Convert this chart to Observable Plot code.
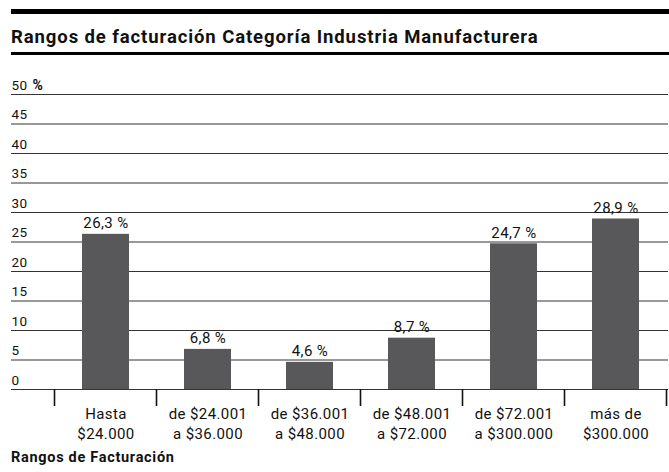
<!DOCTYPE html>
<html>
<head>
<meta charset="utf-8">
<script src="https://cdn.jsdelivr.net/npm/d3@7"></script>
<script src="https://cdn.jsdelivr.net/npm/@observablehq/plot@0.6"></script>
<style>
  html, body { margin: 0; padding: 0; background: #fff; }
  #wrap { position: relative; width: 669px; height: 472px; overflow: hidden; font-family: Roboto, sans-serif; color: #111; }
  #topbar { position: absolute; left: 11px; top: 9px; width: 658px; height: 5px; background: #000; }
  #title { position: absolute; left: 11px; top: 27.5px; font-size: 18.5px; line-height: 1; font-weight: bold; letter-spacing: 0.9px; white-space: nowrap; }
  #rule { position: absolute; left: 11px; top: 52px; width: 658px; height: 3px; background: #000; }
  #caption { position: absolute; left: 11px; top: 451px; font-size: 14.5px; line-height: 1; font-weight: bold; letter-spacing: 0.7px; white-space: nowrap; }
  #chart { position: absolute; left: 0; top: 0; }
</style>
</head>
<body>
<div id="wrap">
  <div id="topbar"></div>
  <div id="title">Rangos de facturación Categoría Industria Manufacturera</div>
  <div id="rule"></div>
  <div id="chart"></div>
  <div id="caption">Rangos de Facturación</div>
</div>
<script>
const categories = [
  "Hasta\n$24.000",
  "de $24.001\na $36.000",
  "de $36.001\na $48.000",
  "de $48.001\na $72.000",
  "de $72.001\na $300.000",
  "más de\n$300.000"
];
const values = [26.3, 6.8, 4.6, 8.7, 24.7, 28.9];
const valueLabels = ["26,3 %", "6,8 %", "4,6 %", "8,7 %", "24,7 %", "28,9 %"];
const yTicks = [0, 5, 10, 15, 20, 25, 30, 35, 40, 45, 50];
const yTickLabels = ["0", "5", "10", "15", "20", "25", "30", "35", "40", "45", "50"];

const data = categories.map((c, i) => ({cat: c, value: values[i], label: valueLabels[i]}));

function boundaryTicks(index, scales, values, dimensions) {
  const x = scales.x;
  const bw = x.bandwidth();
  const step = x.step ? x.step() : bw / (1 - 0.54);
  const edges = categories.map(c => x(c) - (step - bw) / 2);
  edges.push(edges[edges.length - 1] + step);
  const y0 = dimensions.height - dimensions.marginBottom;
  const g = d3.create("svg:g");
  g.selectAll("line").data(edges).join("line")
    .attr("x1", d => d).attr("x2", d => d)
    .attr("y1", y0).attr("y2", y0 + 17)
    .attr("stroke", "#111").attr("stroke-width", 1.6);
  return g.node();
}

const chart = Plot.plot({
  width: 669,
  height: 472,
  marginTop: 94,
  marginBottom: 83,
  marginLeft: 11,
  marginRight: 1,
  x: {domain: categories, range: [52.3, 668], paddingInner: 0.54, paddingOuter: 0.27, axis: null},
  y: {domain: [0, 50], axis: null},
  style: {fontFamily: "Roboto, sans-serif", color: "#111", background: "transparent", overflow: "visible", letterSpacing: "0.4px"},
  marks: [
    Plot.ruleY(yTicks, {y: d => d, stroke: "#333", strokeWidth: 1}),
    Plot.barY(data, {x: "cat", y: "value", fill: "#58585a"}),
    Plot.text(data, {x: "cat", y: "value", text: "label", lineAnchor: "bottom", dy: -6, fontSize: 15, fill: "#111"}),
    Plot.text(yTicks, {y: d => d, text: (d, i) => yTickLabels[i], frameAnchor: "left", textAnchor: "start", lineAnchor: "bottom", dy: -5, fontSize: 13.5, fill: "#111"}),
    Plot.text([50], {y: d => d, text: () => "%", frameAnchor: "left", textAnchor: "start", lineAnchor: "bottom", dx: 21, dy: -5, fontSize: 14, fontWeight: "bold", fill: "#111"}),
    Plot.text(data, {x: "cat", text: "cat", frameAnchor: "bottom", lineAnchor: "top", dy: 16, lineHeight: 1.3, fontSize: 15, fill: "#111"}),
    boundaryTicks
  ]
});
document.getElementById("chart").appendChild(chart);
</script>
</body>
</html>
